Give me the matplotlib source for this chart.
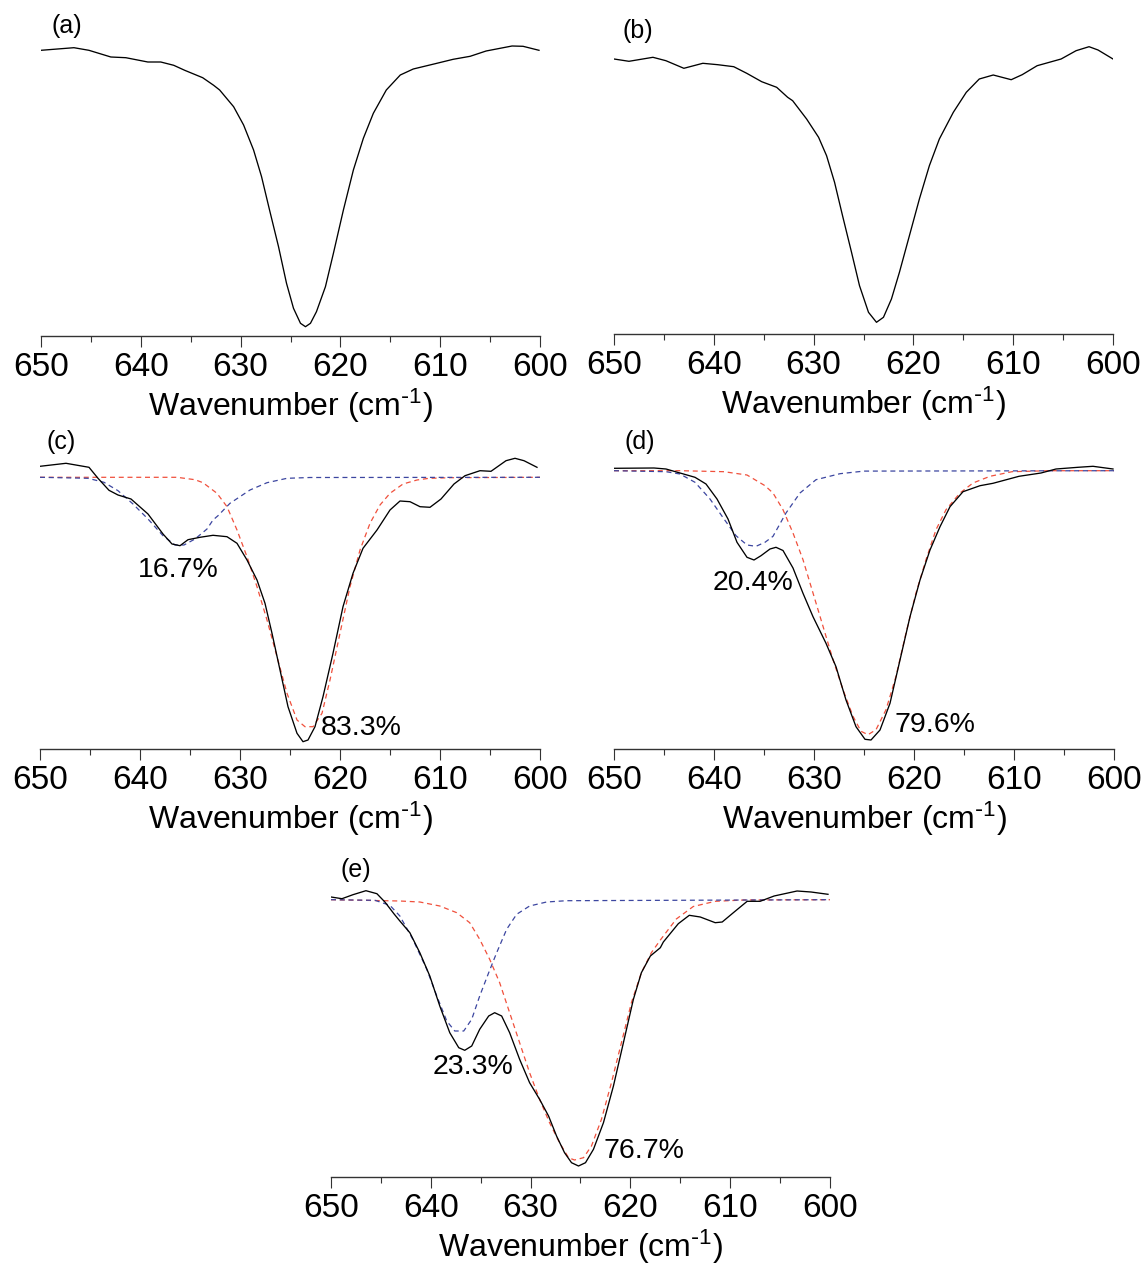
import matplotlib
matplotlib.use("Agg")
import matplotlib.pyplot as plt
from matplotlib.ticker import MultipleLocator

plt.rcParams['font.family'] = ['Liberation Sans', 'DejaVu Sans']
plt.rcParams['mathtext.default'] = 'regular'

# ---------------- data (height above the axis line, arbitrary units) ----------------
a_wn = [650, 646.7, 645.2, 643.0, 641.5, 639.3, 638.0, 636.7, 635.6, 633.8, 632.7, 632.1,
        630.7, 629.7, 628.7, 627.9, 627.1, 626.2, 625.4, 624.7, 624.0, 623.5, 623.0, 622.4,
        621.5, 620.7, 619.7, 618.7, 617.7, 616.7, 615.4, 614.0, 612.7, 610.5, 608.7, 607.0,
        605.4, 602.8, 601.7, 600.1]
a_y = [285.7, 288.3, 285.7, 279, 278.3, 274, 274, 270.7, 265.7, 258.3, 250.7, 246,
       229.3, 211, 186, 159.3, 126, 89.3, 52.7, 27.7, 12.7, 9.3, 12.7, 24.3,
       49.3, 82.7, 126, 166, 197.7, 222.7, 246, 261, 267, 272.3, 276.7, 279.7,
       285, 290, 289.7, 285.7]

b_wn = [650, 648.5, 646.1, 644.8, 643.0, 641.1, 639.6, 638.0, 636.7, 635.2, 633.7, 632.6,
        632.1, 630.7, 629.5, 628.7, 627.9, 627.1, 626.2, 625.4, 624.5, 623.7, 623.0, 622.2,
        621.4, 620.4, 619.4, 618.4, 617.4, 616.0, 614.7, 613.4, 612.0, 610.2, 609.1, 607.6,
        605.2, 603.7, 602.4, 601.5, 600]
b_y = [275, 272.7, 276.7, 273.3, 265.7, 270.7, 269.3, 267.3, 260.7, 252.3, 246.7, 236.7,
       233.3, 215, 196.7, 178.3, 151.7, 118.3, 81.7, 48.3, 21.7, 11.7, 16.7, 35,
       61.7, 98.3, 135, 168.3, 195, 221.7, 241.7, 255, 259, 254.3, 259.3, 268.3,
       275, 283.3, 287.3, 284, 275]

c_wn = [650, 647.4, 645.1, 644.2, 643.1, 642.2, 640.9, 639.2, 637.7, 636.8, 636.0, 635.2,
        634.0, 632.7, 631.3, 630.3, 629.3, 628.3, 627.5, 626.8, 626.0, 625.2, 624.3, 623.7,
        623.2, 622.5, 621.7, 620.7, 619.7, 618.7, 617.7, 616.3, 615.0, 614.0, 613.0, 612.0,
        611.0, 609.9, 608.6, 607.5, 606.0, 604.9, 603.4, 602.5, 601.6, 600.3]
c_y = [282.7, 285.7, 281.7, 270.7, 258.7, 254, 250, 235, 215, 205, 203.3, 209.3,
       211.7, 213.7, 212.3, 205.7, 189, 169, 145.7, 115.7, 79, 42.3, 15.7, 7.3,
       9, 22.3, 52.3, 95.7, 142.3, 175.7, 200.7, 219, 239, 248, 247.3, 242.3,
       241.7, 250, 265, 273.3, 278.3, 277.7, 288.3, 290.7, 288.3, 281.7]
c_blue_wn = [650, 645.2, 643.6, 642.2, 640.7, 639.2, 637.7, 636.5, 635.6, 634.5, 633.3, 632.7,
             632.2, 631.0, 629.0, 627.3, 625.3, 623.0, 600]
c_blue_y = [271.7, 270.7, 266.7, 258.3, 245, 230, 213.3, 204, 204, 210, 220, 229,
            233.3, 245.7, 259, 266.3, 270.7, 271.5, 271.7]
c_red_wn = [650, 636.3, 634.5, 633.7, 632.3, 631.3, 630.3, 629.3, 628.3, 627.3, 626.3, 625.3,
            624.3, 623.5, 622.7, 621.8, 621.0, 620.0, 619.0, 618.0, 617.0, 616.0, 615.0, 613.7,
            612.3, 611.1, 608.9, 600]
c_red_y = [271.7, 271.7, 269.3, 266.3, 255.7, 242.3, 219, 192.3, 162.3, 129, 92.3, 55.7,
           29, 22.3, 22.3, 35.7, 69, 115.7, 162.3, 199, 225.7, 244, 255.7, 265,
           269, 270.7, 271.3, 271.7]

d_wn = [650, 646.0, 644.8, 643.4, 641.9, 640.8, 639.7, 638.6, 637.7, 636.7, 636.0, 635.3,
        634.4, 633.8, 633.1, 632.1, 631.1, 630.1, 628.8, 627.8, 626.8, 625.8, 624.9, 624.3,
        623.4, 622.4, 621.4, 620.4, 619.4, 618.4, 617.4, 616.4, 615.1, 613.4, 612.1, 609.5,
        607.3, 605.8, 603.6, 602.1, 600.1]
d_y = [280.7, 281, 280, 276, 271.7, 265, 250, 230, 206.7, 191.7, 189, 193.3,
       200, 201.7, 198.5, 181, 155.7, 132.3, 105.7, 82.3, 49, 22.3, 9.7, 9,
       19, 45.7, 89, 132.3, 169, 199, 222.3, 242.3, 257.3, 263.3, 265.7, 272.7,
       276, 280, 281.7, 282.7, 280]
d_blue_wn = [650, 644.8, 643.4, 641.9, 640.4, 639.0, 637.8, 636.7, 635.8, 634.9, 634.1, 632.8,
             631.4, 629.8, 627.4, 625.0, 600]
d_blue_y = [278.3, 277.3, 275, 266.7, 250, 230, 213.3, 204, 202.7, 206.7, 212.7, 236,
            256, 269.3, 275.3, 277.9, 278.3]
d_red_wn = [650, 643.4, 639.0, 636.7, 634.9, 634.1, 633.1, 632.1, 631.1, 630.1, 629.1, 628.1,
            627.1, 626.1, 625.3, 624.6, 623.8, 622.8, 621.8, 620.8, 619.8, 618.8, 617.8, 616.8,
            615.4, 614.1, 612.4, 610.2, 606.5, 600]
d_red_y = [278.3, 278.3, 277.3, 274, 263.3, 256, 239.3, 216, 189.3, 156, 122.7, 89.3,
           59.3, 32.7, 17.7, 14.3, 19.3, 39.3, 72.7, 116, 156, 189.3, 219.3, 239.3,
           256, 266, 272.7, 277.3, 278.3, 278.3]

e_wn = [650, 648.9, 647.8, 646.5, 645.4, 644.6, 643.7, 643.1, 642.1, 641.1, 640.1, 639.1,
        638.1, 637.2, 636.6, 635.9, 635.1, 634.2, 633.6, 632.9, 632.1, 631.1, 630.1, 629.1,
        628.2, 627.4, 626.6, 625.9, 625.2, 624.5, 623.7, 622.7, 621.7, 620.7, 619.7, 618.9,
        618.0, 617.0, 616.7, 615.2, 614.1, 613.0, 611.5, 610.8, 609.6, 608.3, 607.0, 605.6,
        603.3, 601.9, 600.2]
e_y = [280, 278.3, 282.3, 286.3, 283.3, 275, 263.3, 256, 244.3, 224.3, 201, 171,
       144.3, 129.3, 126.7, 131, 147.7, 161, 164.3, 161, 144.3, 117.7, 94.3, 77.7,
       61, 41, 24.3, 14.3, 11, 14.3, 27.7, 54.3, 91, 134.3, 177.7, 204.3,
       221, 229.3, 235, 253.3, 261.7, 260, 254.3, 255, 265, 275.7, 275.7, 281,
       286, 285, 282.7]
e_blue_wn = [650, 645.6, 644.1, 643.1, 641.8, 640.4, 639.4, 638.4, 637.6, 636.7, 635.9, 635.1,
             634.2, 633.4, 632.4, 631.4, 630.1, 628.4, 626.4, 600]
e_blue_y = [277.3, 276.7, 271.7, 261, 237.7, 207.7, 181, 156, 146, 146, 157.7, 181,
            204.3, 224.3, 247.7, 262.7, 271, 275, 276.3, 277.3]
e_red_wn = [650, 643.1, 641.1, 639.1, 637.4, 636.1, 635.1, 634.1, 633.1, 632.1, 631.1, 630.1,
            629.1, 628.1, 627.1, 626.2, 625.6, 624.7, 623.9, 622.9, 621.9, 620.9, 619.9, 618.9,
            617.9, 617.0, 615.4, 613.7, 611.5, 608.6, 600]
e_red_y = [277.3, 276, 275, 271, 264.3, 254.3, 237.7, 217.7, 194.3, 164.3, 134.3, 104.3,
           77.7, 54.3, 34.3, 19.3, 17, 19.3, 31, 57.7, 94.3, 134.3, 174.3, 204.3,
           224.3, 237, 258, 270.5, 275.7, 277, 277.3]

panel_labels = ['(a)', '(b)', '(c)', '(d)', '(e)']
panel_label_pos = [(648.9, 310), (649.1, 302.7), (649.4, 307), (648.9, 306.7), (649.0, 306.7)]
pct_c = [('16.7%', 640.2, 179), ('83.3%', 621.9, 21)]
pct_d = [('20.4%', 640.1, 166), ('79.6%', 622.0, 24)]
pct_e = [('23.3%', 639.8, 110), ('76.7%', 622.7, 26)]

xticks_major = [650, 640, 630, 620, 610, 600]
xlabel_text = 'Wavenumber (cm$^{\\text{-}1}$)'

# ---------------- layout ----------------
W, H = 1148, 1270
fig = plt.figure(figsize=(W / 100, H / 100), dpi=100)

AXH = 330  # px height of each axes


def make_ax(left_px, right_px, axis_px):
    ax = fig.add_axes([left_px / W, 1 - axis_px / H, (right_px - left_px) / W, AXH / H])
    ax.set_xlim(650, 600)
    ax.set_ylim(0, AXH)
    for s in ['left', 'right', 'top']:
        ax.spines[s].set_visible(False)
    ax.spines['bottom'].set_linewidth(1.0)
    ax.spines['bottom'].set_color('#333333')
    ax.set_yticks([])
    ax.set_xticks(xticks_major)
    ax.xaxis.set_minor_locator(MultipleLocator(5))
    ax.tick_params(axis='x', which='major', direction='out', length=8, width=0.8,
                   color='#333333', labelsize=24, pad=3.5)
    ax.tick_params(axis='x', which='minor', direction='out', length=4.5, width=0.8,
                   color='#333333')
    ax.set_xlabel(xlabel_text, fontsize=23, labelpad=2.5)
    ax.patch.set_alpha(0)
    return ax


ax_a = make_ax(41, 540, 336)
ax_b = make_ax(614, 1113, 334)
ax_c = make_ax(40, 540, 749)
ax_d = make_ax(614, 1114, 749)
ax_e = make_ax(331, 830, 1177)

black_kw = dict(color='black', lw=0.95)
red_kw = dict(color='#F0503C', lw=0.9, dashes=(4, 3))
blue_kw = dict(color='#3C46A0', lw=0.9, dashes=(4, 3))

ax_a.plot(a_wn, a_y, **black_kw)
ax_b.plot(b_wn, b_y, **black_kw)

ax_c.plot(c_red_wn, c_red_y, **red_kw)
ax_c.plot(c_blue_wn, c_blue_y, **blue_kw)
ax_c.plot(c_wn, c_y, **black_kw)

ax_d.plot(d_red_wn, d_red_y, **red_kw)
ax_d.plot(d_blue_wn, d_blue_y, **blue_kw)
ax_d.plot(d_wn, d_y, **black_kw)

ax_e.plot(e_red_wn, e_red_y, **red_kw)
ax_e.plot(e_blue_wn, e_blue_y, **blue_kw)
ax_e.plot(e_wn, e_y, **black_kw)

for ax, lab, (px, py) in zip([ax_a, ax_b, ax_c, ax_d, ax_e], panel_labels, panel_label_pos):
    ax.text(px, py, lab, fontsize=18, ha='left', va='center', clip_on=False)

for ax, pcts in zip([ax_c, ax_d, ax_e], [pct_c, pct_d, pct_e]):
    for txt, px, py in pcts:
        ax.text(px, py, txt, fontsize=20.5, ha='left', va='center')

fig.savefig('out.png', dpi=100)
